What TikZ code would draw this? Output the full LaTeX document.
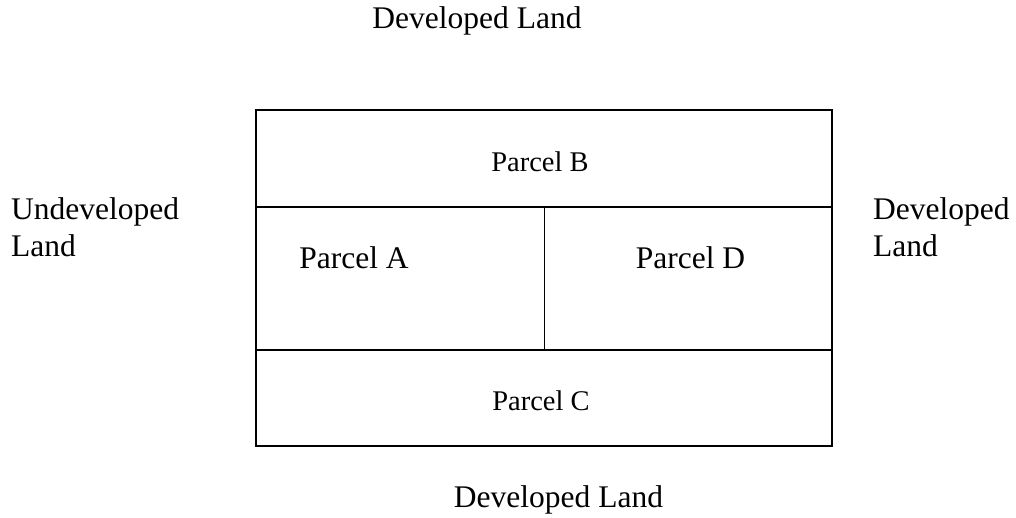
\documentclass[tikz,border=0pt]{standalone}
\usepackage{fontspec}
\setmainfont{Liberation Serif}
\begin{document}
\begin{tikzpicture}[x=1pt,y=-1pt,
  lbl/.style={inner sep=0pt, font=\fontsize{31.5}{37}\selectfont},
  plbl/.style={inner sep=0pt, font=\fontsize{28.5}{34}\selectfont},
  edge/.style={line width=2pt},
  thin edge/.style={line width=1.6pt}]
\useasboundingbox (0,0) rectangle (1016,517);
\coordinate (tl) at (256,110);
\coordinate (br) at (832,446);
\coordinate (ml) at (256,207);
\coordinate (mr) at (832,207);
\coordinate (ll) at (256,350);
\coordinate (lr) at (832,350);
\coordinate (vt) at (544.5,207);
\coordinate (vb) at (544.5,350);
\draw[edge] (tl) rectangle (br);
\draw[edge] (ml) -- (mr);
\draw[edge] (ll) -- (lr);
\draw[thin edge] (vt) -- (vb);
\node[lbl, anchor=base] (top) at (477,28) {Developed Land};
\node[lbl, anchor=base] (bottom) at (558.5,507) {Developed Land};
\node[lbl, anchor=base west, align=left] (left) at (11,256) {Undeveloped\\Land};
\node[lbl, anchor=base west, align=left] (right) at (873,256) {Developed\\Land};
\node[plbl, anchor=base] (pb) at (540,171) {Parcel B};
\node[plbl, anchor=base] (pc) at (541,410) {Parcel C};
\node[lbl, anchor=base] (pa) at (354,268.5) {Parcel A};
\node[lbl, anchor=base] (pd) at (690.5,268.5) {Parcel D};
\end{tikzpicture}
\end{document}
